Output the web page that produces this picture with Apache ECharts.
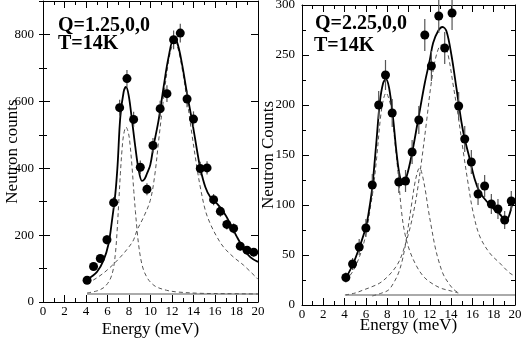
<!DOCTYPE html>
<html>
<head>
<meta charset="utf-8">
<script src="https://cdn.jsdelivr.net/npm/echarts@6/dist/echarts.min.js"></script>
<style>
html,body{margin:0;padding:0;background:#fff;}
#c{width:523px;height:339px;}
</style>
</head>
<body>
<div id="c"></div>
<script>
// ---------- Left panel: Q=1.25,0,0 ----------
const energyL = [4.1, 4.7, 5.33, 5.95, 6.57, 7.13, 7.81, 8.43, 9.05, 9.67, 10.23, 10.9, 11.53, 12.15, 12.77, 13.4, 14.0, 14.63, 15.26, 15.87, 16.5, 17.1, 17.73, 18.35, 18.98, 19.6];
const countsL = [65, 106, 130, 186, 297, 581, 668, 546, 403, 337, 468, 578, 623, 784, 804, 607, 547, 399, 401, 306, 271, 232, 220, 167, 155, 149];
const errorL  = [8, 10, 11, 14, 17, 24, 26, 23, 20, 18, 22, 24, 25, 28, 28, 25, 23, 20, 20, 17, 16, 15, 15, 13, 12, 12];
const fitTotalL = [[4.09,67],[5.02,90],[5.64,125],[6.1,174],[6.42,244],[6.73,324],[6.94,410],[7.19,553],[7.5,628],[7.72,643],[7.97,618],[8.28,543],[8.59,463],[8.9,395],[9.21,362],[9.45,368],[9.67,384],[9.98,410],[10.29,468],[10.75,543],[11.22,643],[11.68,732],[12.15,785],[12.47,777],[12.93,712],[13.4,623],[13.86,543],[14.33,453],[14.63,400],[15.1,344],[15.56,314],[16.19,294],[16.8,269],[17.42,234],[18.05,194],[18.66,160],[19.28,134],[20.0,120]];
const fitPeak1L = [[4.1,27],[5.0,33],[5.6,42],[6.0,55],[6.3,72],[6.55,100],[6.75,150],[6.9,215],[7.05,300],[7.2,385],[7.35,455],[7.5,500],[7.72,523],[7.95,505],[8.1,470],[8.28,405],[8.45,330],[8.6,270],[8.75,215],[8.9,170],[9.1,128],[9.36,95],[9.7,72],[9.98,60],[10.5,46],[11.5,35],[12.5,30],[14.6,26],[17.0,25],[20.0,24]];
const fitPeak2L = [[4.1,55],[5.0,72],[5.95,95],[7.19,134],[8.0,165],[8.43,186],[8.74,214],[9.36,254],[9.98,304],[10.4,380],[10.75,480],[11.22,610],[11.68,720],[12.0,765],[12.25,775],[12.5,765],[12.93,700],[13.4,605],[13.86,500],[14.33,400],[14.63,344],[15.1,274],[15.56,234],[16.19,194],[16.8,164],[17.73,134],[18.66,110],[20.0,68]];
const baseLineL = [[4.1,24],[20,24]];

// ---------- Right panel: Q=2.25,0,0 ----------
const energyR = [4.12, 4.75, 5.37, 6.0, 6.6, 7.2, 7.84, 8.47, 9.09, 9.72, 10.34, 10.97, 11.53, 12.15, 12.84, 13.4, 14.09, 14.71, 15.28, 15.9, 16.53, 17.15, 17.78, 18.4, 19.03, 19.65];
const countsR = [27.5, 41, 58, 77, 120, 200, 230, 192, 123, 124, 153, 185, 270, 239, 289, 257, 292, 199, 166, 143, 111, 119, 101, 96, 85, 104];
const errorR  = [5, 6, 8, 9, 11, 14, 15, 14, 11, 11, 12, 14, 16, 15, 17, 16, 17, 14, 13, 12, 11, 11, 10, 10, 9, 10];
const fitTotalR = [[4.12,27],[4.75,40],[5.37,57],[6.0,78],[6.3,95],[6.6,118],[7.0,165],[7.31,203],[7.62,222],[7.87,226],[8.18,217],[8.56,186],[8.87,153],[9.18,129],[9.5,121],[9.81,128],[10.28,149],[10.9,185],[11.53,222],[12.0,245],[12.31,262],[12.78,274],[13.19,278],[13.56,274],[14.03,250],[14.5,217],[14.97,183],[15.28,166],[15.75,146],[16.21,126],[16.68,113],[17.31,104],[17.93,97],[18.56,91],[19.12,85],[19.4,88],[19.8,104]];
const fitPeak1R = [[4.12,24],[5.0,38],[5.9,66],[6.5,103],[6.69,116],[7.0,146],[7.4,190],[7.7,208],[7.9,212],[8.1,208],[8.4,196],[8.72,163],[9.03,131],[9.34,94],[9.65,72],[10.12,54],[10.75,39],[11.37,29],[12.0,23],[13.0,17],[14.0,14],[14.68,12]];
const fitPeak2R = [[6.6,9],[7.5,12],[8.12,15],[8.6,22],[9.06,32],[9.4,44],[9.69,59],[10.0,80],[10.31,102],[10.6,122],[10.9,135],[11.05,137],[11.25,132],[11.56,116],[11.85,96],[12.18,76],[12.5,58],[12.81,45],[13.25,31],[13.75,22],[14.2,16],[14.7,12]];
const fitPeak3R = [[4.03,10],[5.0,12],[5.75,15],[6.5,18],[7.31,22],[8.1,29],[8.87,39],[9.3,48],[9.65,59],[10.12,76],[10.59,99],[10.9,119],[11.3,150],[11.69,183],[12.15,223],[12.62,250],[13.09,260],[13.4,258],[13.72,250],[14.18,221],[14.65,190],[15.12,155],[15.59,122],[16.06,93],[16.68,69],[17.62,52],[18.56,42],[19.5,32],[20.0,29]];
const baseLineR = [[4.1,10],[20,10]];

// ---------- Axis settings ----------
const xMin = 0, xMax = 20, xStep = 2;
const yMaxL = 900, yStepL = 200, yMinorL = 100;
const yMaxR = 300, yStepR = 50;
const xTitle = 'Energy (meV)';
const yTitleL = 'Neutron counts';
const yTitleR = 'Neutron Counts';

const SERIF = 'Liberation Serif, Times New Roman, serif';
const black = '#000';

function xAx(gi, pos, labels, gap) {
  return {
    type: 'value', gridIndex: gi, position: pos, min: xMin, max: xMax, interval: xStep,
    axisLine: { show: true, onZero: false, lineStyle: { color: black, width: 1 } },
    axisTick: { show: true, inside: true, length: 7, lineStyle: { color: black } },
    minorTick: { show: true, splitNumber: 2, length: 4, lineStyle: { color: black } },
    splitLine: { show: false },
    axisLabel: { show: labels, margin: 3, fontFamily: SERIF, fontSize: 13, color: black, hideOverlap: false },
    name: labels ? xTitle : '', nameLocation: 'middle', nameGap: gap || 16, nameMoveOverlap: false,
    nameTextStyle: { fontFamily: SERIF, fontSize: 17, color: black }
  };
}
function yAx(gi, pos, opts) {
  return Object.assign({
    type: 'value', gridIndex: gi, position: pos, min: 0,
    axisLine: { show: true, onZero: false, lineStyle: { color: black, width: 1 } },
    splitLine: { show: false },
    nameLocation: 'middle', nameRotate: 90, nameMoveOverlap: false,
    nameTextStyle: { fontFamily: SERIF, fontSize: 17, color: black }
  }, opts);
}
const lblStyle = { margin: 9, fontFamily: SERIF, fontSize: 13, color: black, hideOverlap: false };

const xAxes = [xAx(0, 'bottom', true, 19), xAx(0, 'top', false), xAx(1, 'bottom', true, 12), xAx(1, 'top', false)];
const yAxes = [
  // left grid: major axis (labels) + minor-tick axis, both sides
  yAx(0, 'left', { max: yMaxL, interval: yStepL,
    axisTick: { show: true, inside: true, length: 7, lineStyle: { color: black } },
    axisLabel: Object.assign({}, lblStyle, { formatter: v => (v % yStepL === 0 ? String(v) : '') }),
    name: yTitleL, nameGap: 22 }),
  yAx(0, 'left', { max: yMaxL, interval: yMinorL, axisLine: { show: false },
    axisTick: { show: true, inside: true, length: 4, lineStyle: { color: black } },
    axisLabel: { show: false } }),
  yAx(0, 'right', { max: yMaxL, interval: yStepL,
    axisTick: { show: true, inside: true, length: 7, lineStyle: { color: black } },
    axisLabel: { show: false } }),
  yAx(0, 'right', { max: yMaxL, interval: yMinorL, axisLine: { show: false },
    axisTick: { show: true, inside: true, length: 4, lineStyle: { color: black } },
    axisLabel: { show: false } }),
  // right grid
  yAx(1, 'left', { max: yMaxR, interval: yStepR,
    axisTick: { show: true, inside: true, length: 7, lineStyle: { color: black } },
    minorTick: { show: true, splitNumber: 2, length: 4, lineStyle: { color: black } },
    axisLabel: Object.assign({}, lblStyle, { margin: 7 }),
    name: yTitleR, nameGap: 25 }),
  yAx(1, 'right', { max: yMaxR, interval: yStepR,
    axisTick: { show: true, inside: true, length: 7, lineStyle: { color: black } },
    minorTick: { show: true, splitNumber: 2, length: 4, lineStyle: { color: black } },
    axisLabel: { show: false } })
];

function dashed(data, xi, yi) {
  return { type: 'line', data, xAxisIndex: xi, yAxisIndex: yi, smooth: 0.35, showSymbol: false, symbol: 'none',
    lineStyle: { color: '#555', width: 1, type: [4, 3] }, z: 2, silent: true };
}
function solid(data, xi, yi) {
  return { type: 'line', data, xAxisIndex: xi, yAxisIndex: yi, smooth: 0.35, showSymbol: false, symbol: 'none',
    lineStyle: { color: '#000', width: 1.8 }, z: 3, silent: true };
}
function base(data, xi, yi) {
  return { type: 'line', data, xAxisIndex: xi, yAxisIndex: yi, showSymbol: false, symbol: 'none',
    lineStyle: { color: '#aaa', width: 2 }, z: 1, silent: true };
}
function errBars(E, N, S, xi, yi) {
  return { type: 'custom', xAxisIndex: xi, yAxisIndex: yi, z: 4, silent: true,
    data: E.map((e, i) => [e, N[i], S[i]]),
    renderItem: function (params, api) {
      const x = api.value(0), y = api.value(1), s = api.value(2);
      const p1 = api.coord([x, y + s]), p2 = api.coord([x, y - s]);
      return { type: 'line', shape: { x1: p1[0], y1: p1[1], x2: p2[0], y2: p2[1] },
        style: { stroke: '#555', lineWidth: 1.2 } };
    } };
}
function points(E, N, xi, yi) {
  return { type: 'scatter', data: E.map((e, i) => [e, N[i]]), xAxisIndex: xi, yAxisIndex: yi,
    symbol: 'circle', symbolSize: 9, itemStyle: { color: '#000', opacity: 1 }, z: 5, silent: true };
}

const chart = echarts.init(document.getElementById('c'), null, { renderer: 'canvas' });
chart.setOption({
  animation: false,
  backgroundColor: '#fff',
  grid: [
    { left: 43, top: 1, width: 215, height: 301, containLabel: false, outerBoundsMode: 'none' },
    { left: 302, top: 5, width: 213, height: 300, containLabel: false, outerBoundsMode: 'none' }
  ],
  xAxis: xAxes,
  yAxis: yAxes,
  graphic: [
    { type: 'text', left: 58, top: 16, style: { text: 'Q=1.25,0,0', font: 'bold 20px ' + SERIF, fill: '#000' } },
    { type: 'text', left: 58, top: 34, style: { text: 'T=14K', font: 'bold 20px ' + SERIF, fill: '#000' } },
    { type: 'text', left: 315, top: 14, style: { text: 'Q=2.25,0,0', font: 'bold 20px ' + SERIF, fill: '#000' } },
    { type: 'text', left: 314, top: 36, style: { text: 'T=14K', font: 'bold 20px ' + SERIF, fill: '#000' } }
  ],
  series: [
    base(baseLineL, 0, 0),
    dashed(fitPeak1L, 0, 0),
    dashed(fitPeak2L, 0, 0),
    solid(fitTotalL, 0, 0),
    errBars(energyL, countsL, errorL, 0, 0),
    points(energyL, countsL, 0, 0),
    base(baseLineR, 2, 4),
    dashed(fitPeak1R, 2, 4),
    dashed(fitPeak2R, 2, 4),
    dashed(fitPeak3R, 2, 4),
    solid(fitTotalR, 2, 4),
    errBars(energyR, countsR, errorR, 2, 4),
    points(energyR, countsR, 2, 4)
  ]
});
</script>
</body>
</html>
